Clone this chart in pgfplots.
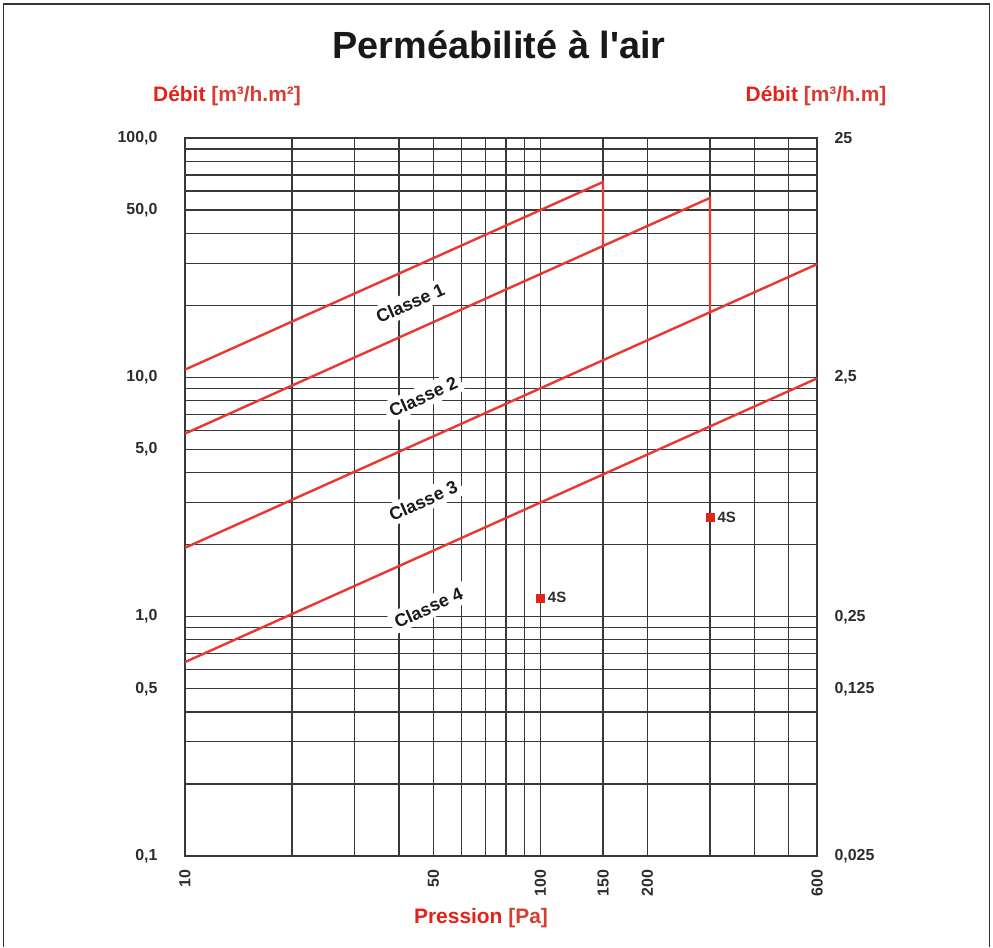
\documentclass[border=0pt]{standalone}
\usepackage{pgfplots}
\pgfplotsset{compat=1.18}
\usepackage{fontspec}
\setmainfont{Liberation Sans}
\definecolor{redline}{RGB}{232,56,48}
\definecolor{redlab}{RGB}{226,35,26}
\definecolor{redbr}{RGB}{214,62,52}
\definecolor{gridc}{RGB}{55,55,60}
\definecolor{tickc}{RGB}{45,45,45}

\tikzset{classlab/.style={rotate=24, fill=white, inner sep=4.5bp, font=\fontsize{18}{20}\selectfont\bfseries, text=black!90}}

\begin{document}
\begin{tikzpicture}
% page
\path[fill=white] (0bp,0bp) rectangle (993bp,947bp);
\draw[line width=1.6bp, black!80] (3.5bp,0bp) -- (3.5bp,943bp) -- (989.5bp,943bp) -- (989.5bp,0bp);

\begin{axis}[
    at={(185bp,91bp)}, anchor=south west,
    scale only axis,
    width=632bp, height=718bp,
    xmode=log, ymode=log,
    xmin=10, xmax=600,
    ymin=0.1, ymax=100,
    xtick={10,50,100,150,200,600},
    xticklabels={10,50,100,150,200,600},
    minor xtick={20,30,40,60,70,80,90,300,400,500},
    ytick={0.1,0.5,1,5,10,50,100},
    yticklabels={{0,1},{0,5},{1,0},{5,0},{10,0},{50,0},{100,0}},
    minor ytick={0.2,0.3,0.4,0.6,0.7,0.8,0.9,2,3,4,6,7,8,9,20,30,40,60,70,80,90},
    grid=both,
    major grid style={gridc, line width=1.2bp},
    minor grid style={gridc, line width=1.2bp},
    axis line style={gridc, line width=1.2bp},
    major tick length=0pt, minor tick length=0pt,
    ticklabel style={font=\fontsize{16}{18}\selectfont\bfseries, text=tickc},
    xticklabel style={rotate=90, anchor=east, xshift=-10bp},
    yticklabel style={anchor=east, xshift=-24bp},
    /pgf/number format/assume math mode=true,
]
\addplot[redline, line width=2.4bp] coordinates {(10,10.77) (150,65.5) (150,35.4)};
\addplot[redline, line width=2.4bp] coordinates {(10,5.82) (300,56.2) (300,18.7)};
\addplot[redline, line width=2.4bp] coordinates {(10,1.94) (600,29.7)};
\addplot[redline, line width=2.4bp] coordinates {(10,0.646) (600,9.9)};
\addplot[only marks, mark=square*, mark size=4bp, mark options={fill=redlab, draw=redlab},
    point meta=explicit symbolic,
    nodes near coords={\pgfplotspointmeta},
    every node near coord/.style={anchor=west, xshift=4bp, font=\fontsize{15}{17}\selectfont\bfseries, text=tickc}]
    coordinates {(100,1.2) [4S] (300,2.6) [4S]};

\node[classlab] at (axis cs:43,20.4) {Classe 1};
\node[classlab] at (axis cs:46.8,8.3) {Classe 2};
\node[classlab] at (axis cs:46.8,3.05) {Classe 3};
\node[classlab] at (axis cs:48.4,1.09) {Classe 4};
\end{axis}

\begin{axis}[
    at={(185bp,91bp)}, anchor=south west,
    scale only axis,
    width=632bp, height=718bp,
    xmode=log, ymode=log,
    xmin=10, xmax=600,
    ymin=0.025, ymax=25,
    hide x axis,
    axis y line*=right,
    axis line style={draw=none},
    ytick={0.025,0.125,0.25,2.5,25},
    yticklabels={{0,025},{0,125},{0,25},{2,5},{25}},
    major tick length=0pt, minor tick length=0pt,
    yticklabel style={font=\fontsize{16}{18}\selectfont\bfseries, text=tickc, anchor=west, xshift=14bp},
]
\end{axis}

% titles
\node[font=\fontsize{38}{42}\selectfont\bfseries, text=black!90] at (499bp,902bp) {Perméabilité à l\textquotesingle air};
\node[font=\fontsize{21}{23}\selectfont\bfseries] at (227bp,851bp) {\textcolor{redlab}{Débit} \textcolor{redbr}{[m³/h.m²]}};
\node[font=\fontsize{21}{23}\selectfont\bfseries] at (816bp,851bp) {\textcolor{redlab}{Débit} \textcolor{redbr}{[m³/h.m]}};
\node[font=\fontsize{21}{23}\selectfont\bfseries] at (481bp,29bp) {\textcolor{redlab}{Pression} \textcolor{redbr}{[Pa]}};
\end{tikzpicture}
\end{document}
